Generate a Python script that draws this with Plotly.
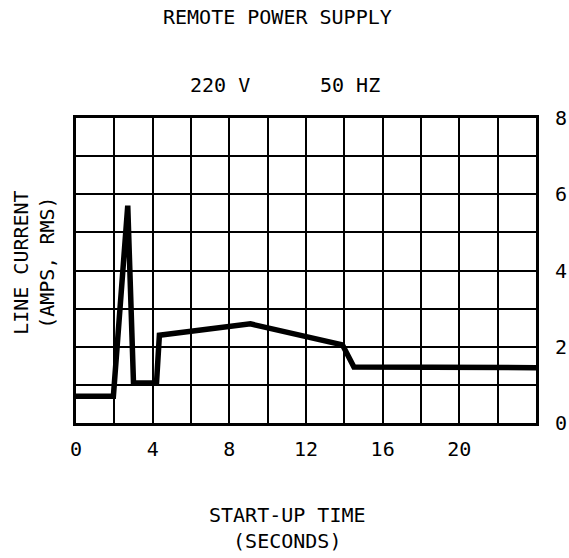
import plotly.graph_objects as go

# Data
time_s = [0, 1.95, 2.7, 3.0, 4.2, 4.35, 9.1, 13.9, 14.5, 24]
current_a = [0.7, 0.7, 5.7, 1.05, 1.05, 2.3, 2.6, 2.05, 1.47, 1.45]

x_tickvals = [0, 4, 8, 12, 16, 20]
x_ticktext = ["0", "4", "8", "12", "16", "20"]
y_tickvals = [0, 2, 4, 6, 8]
y_ticktext = ["0", "2", "4", "6", "8"]

title_text = "REMOTE POWER SUPPLY"
voltage_text = "220 V"
freq_text = "50 HZ"
x_title = "START-UP TIME<br>(SECONDS)"
y_title = "LINE CURRENT<br>(AMPS, RMS)"

FONT = "DejaVu Sans Mono"
fsize = 20

fig = go.Figure()
fig.add_trace(go.Scatter(
    x=time_s, y=current_a, mode="lines",
    line=dict(color="black", width=5.5),
    hoverinfo="skip", showlegend=False,
))

fig.update_layout(
    width=569, height=558,
    margin=dict(l=76, r=33, t=118, b=135, autoexpand=False),
    paper_bgcolor="white", plot_bgcolor="white",
    font=dict(family=FONT, size=fsize, color="black"),
    showlegend=False,
    xaxis=dict(
        range=[0, 24], tickmode="array", tickvals=x_tickvals, ticktext=x_ticktext,
        showgrid=True, gridcolor="black", gridwidth=1.5,
        minor=dict(dtick=2, tick0=0, showgrid=True, gridcolor="black", gridwidth=1.5),
        showline=True, linecolor="black", linewidth=3, mirror=True,
        ticks="", ticklabelstandoff=6, zeroline=False, automargin=False,
        tickfont=dict(family=FONT, size=fsize),
    ),
    yaxis=dict(
        range=[0, 8], side="right", tickmode="array", tickvals=y_tickvals, ticktext=y_ticktext,
        showgrid=True, gridcolor="black", gridwidth=1.5,
        minor=dict(dtick=1, tick0=0, showgrid=True, gridcolor="black", gridwidth=1.5),
        showline=True, linecolor="black", linewidth=3, mirror=True,
        ticks="", ticklabelstandoff=12, zeroline=False, automargin=False,
        tickfont=dict(family=FONT, size=fsize),
    ),
    annotations=[
        dict(text=title_text, xref="paper", yref="paper", x=0.439, y=1.331,
             showarrow=False, xanchor="center", yanchor="middle"),
        dict(text=voltage_text, xref="paper", yref="paper", x=0.313, y=1.108,
             showarrow=False, xanchor="center", yanchor="middle"),
        dict(text=freq_text, xref="paper", yref="paper", x=0.596, y=1.108,
             showarrow=False, xanchor="center", yanchor="middle"),
        dict(text=x_title, xref="paper", yref="paper", x=0.459, y=-0.344,
             showarrow=False, xanchor="center", yanchor="middle"),
        dict(text=y_title, xref="paper", yref="paper", x=-0.0915, y=0.528,
             showarrow=False, xanchor="center", yanchor="middle", textangle=-90),
    ],
)

fig.write_html("out.html", config={"displayModeBar": False},
               post_script="document.body.style.margin='0';")
